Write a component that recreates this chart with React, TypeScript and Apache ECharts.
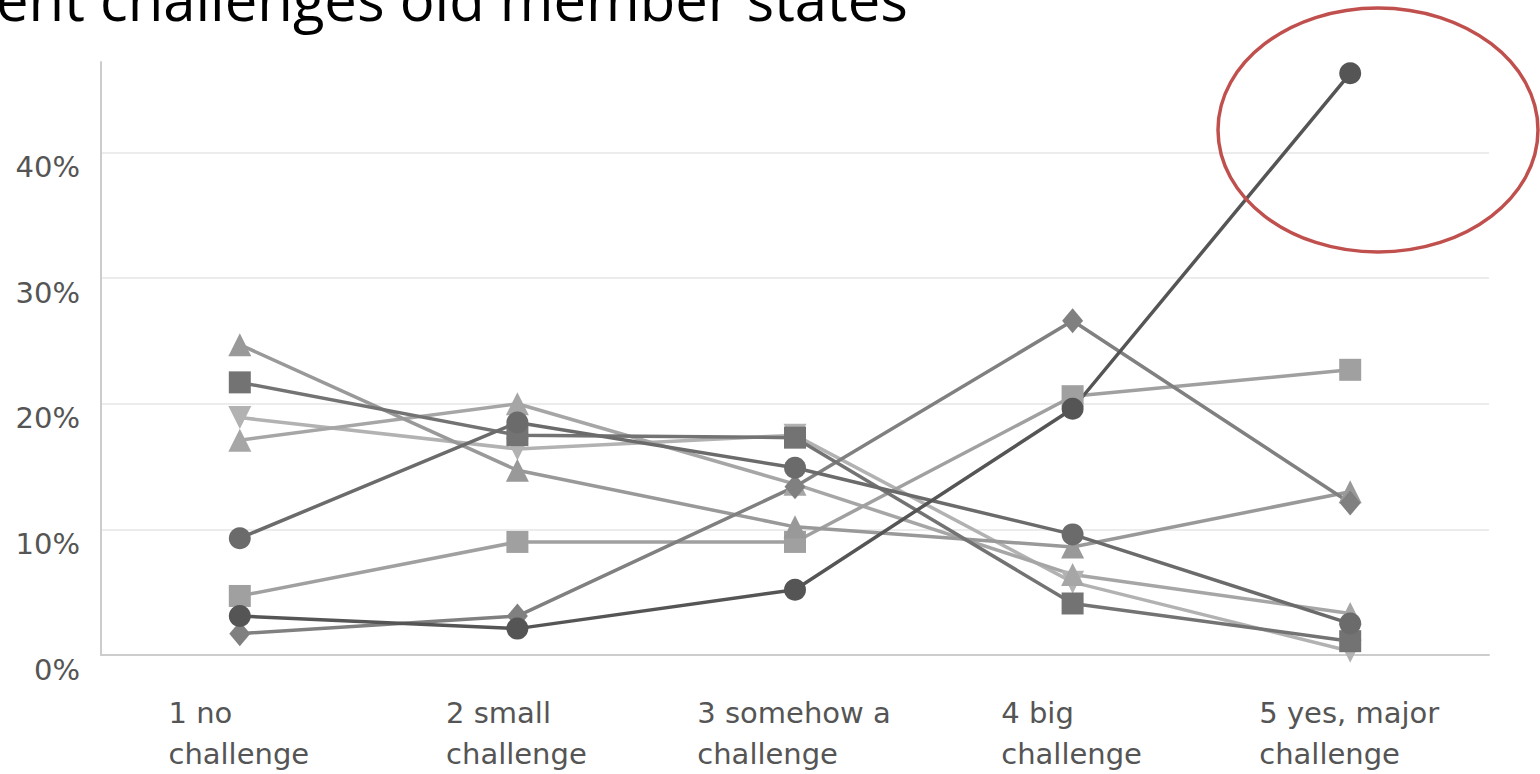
import React, { useEffect, useRef } from "react";
import * as echarts from "echarts";

const titleText = "ent challenges old member states";
const categories = [
  "1 no\nchallenge",
  "2 small\nchallenge",
  "3 somehow a\nchallenge",
  "4 big\nchallenge",
  "5 yes, major\nchallenge",
];
const yTicks = [0, 10, 20, 30, 40];

// series values (percent), drawn bottom to top
const invTriangleLight = [18.9, 16.4, 17.5, 5.8, 0.3];
const triangleLight = [17.1, 20.0, 13.6, 6.4, 3.3];
const squareLight = [4.7, 9.0, 9.0, 20.6, 22.7];
const triangleMid = [24.7, 14.7, 10.2, 8.6, 13.0];
const diamondMid = [1.7, 3.1, 13.4, 26.6, 12.1];
const squareDark = [21.7, 17.5, 17.3, 4.1, 1.1];
const circleMid = [9.3, 18.5, 14.9, 9.6, 2.5];
const circleDark = [3.1, 2.1, 5.2, 19.6, 46.3];

const seriesDefs = [
  { name: "a", data: invTriangleLight, color: "#b2b2b2", symbol: "triangle", rotate: 180 },
  { name: "b", data: triangleLight, color: "#a6a6a6", symbol: "triangle", rotate: 0 },
  { name: "c", data: squareLight, color: "#a0a0a0", symbol: "rect", rotate: 0 },
  { name: "d", data: triangleMid, color: "#999999", symbol: "triangle", rotate: 0 },
  { name: "e", data: diamondMid, color: "#808080", symbol: "diamond", rotate: 0 },
  { name: "f", data: squareDark, color: "#737373", symbol: "rect", rotate: 0 },
  { name: "g", data: circleMid, color: "#6b6b6b", symbol: "circle", rotate: 0 },
  { name: "h", data: circleDark, color: "#555555", symbol: "circle", rotate: 0 },
];

const LABEL_FONT = '"DejaVu Sans", sans-serif';
const LABEL_SIZE = 29;

export default function App() {
  const ref = useRef<HTMLDivElement>(null);

  useEffect(() => {
    if (!ref.current) return;
    const chart = echarts.init(ref.current, undefined, { renderer: "svg" });

    const ctx = document.createElement("canvas").getContext("2d");
    const rich: Record<string, any> = {};
    categories.forEach((c, i) => {
      let w = 150;
      if (ctx) {
        ctx.font = `${LABEL_SIZE}px ${LABEL_FONT}`;
        w = Math.max(...c.split("\n").map((l) => ctx.measureText(l).width)) + 2;
      }
      rich["c" + i] = {
        width: w,
        align: "left",
        fontFamily: LABEL_FONT,
        fontSize: LABEL_SIZE,
        color: "#555555",
        lineHeight: 41,
      };
    });

    chart.setOption({
      animation: false,
      backgroundColor: "#ffffff",
      grid: { left: 101, right: 51, top: 62, bottom: 115, containLabel: false },
      xAxis: {
        type: "category",
        data: categories,
        boundaryGap: true,
        axisLine: { show: true, lineStyle: { color: "#cccccc", width: 2 } },
        axisTick: { show: false },
        splitLine: { show: false },
        axisLabel: {
          interval: 0,
          margin: 37,
          align: "center",
          verticalAlign: "top",
          lineHeight: 41,
          formatter: (v: string, i: number) =>
            v
              .split("\n")
              .map((l) => `{c${i}|${l}}`)
              .join("\n"),
          rich,
        },
      },
      yAxis: {
        type: "value",
        min: 0,
        max: 47.2,
        interval: 10,
        axisLine: { show: true, lineStyle: { color: "#cccccc", width: 2 } },
        axisTick: { show: false },
        splitLine: {
          show: true,
          showMinLine: false,
          showMaxLine: false,
          lineStyle: { color: "#ececec", width: 2 },
        },
        axisLabel: {
          margin: 21,
          showMaxLabel: false,
          verticalAlign: "top",
          fontFamily: LABEL_FONT,
          fontSize: LABEL_SIZE,
          color: "#555555",
          formatter: (v: number) => (yTicks.includes(v) ? `${v}%` : ""),
        },
      },
      series: seriesDefs.map((s) => ({
        type: "line",
        name: s.name,
        data: s.data,
        symbol: s.symbol,
        symbolRotate: s.rotate,
        symbolSize: s.symbol === "diamond" ? [21, 25] : s.symbol === "triangle" ? 23 : 22,
        showAllSymbol: true,
        lineStyle: { color: s.color, width: 3.5 },
        itemStyle: { color: s.color },
        emphasis: { disabled: true },
      })),
      graphic: [
        {
          type: "text",
          left: -4,
          top: -31,
          style: {
            text: titleText,
            font: '58px "Open Sans", sans-serif',
            fill: "#000000",
          },
        },
        {
          type: "ellipse",
          shape: { cx: 1378, cy: 130, rx: 160, ry: 122 },
          style: { fill: "none", stroke: "#c0504d", lineWidth: 3.5 },
          z: 100,
        },
      ],
    });

    return () => chart.dispose();
  }, []);

  return (
    <div
      ref={ref}
      style={{ position: "fixed", left: 0, top: 0, width: 1540, height: 774, background: "#fff" }}
    />
  );
}
